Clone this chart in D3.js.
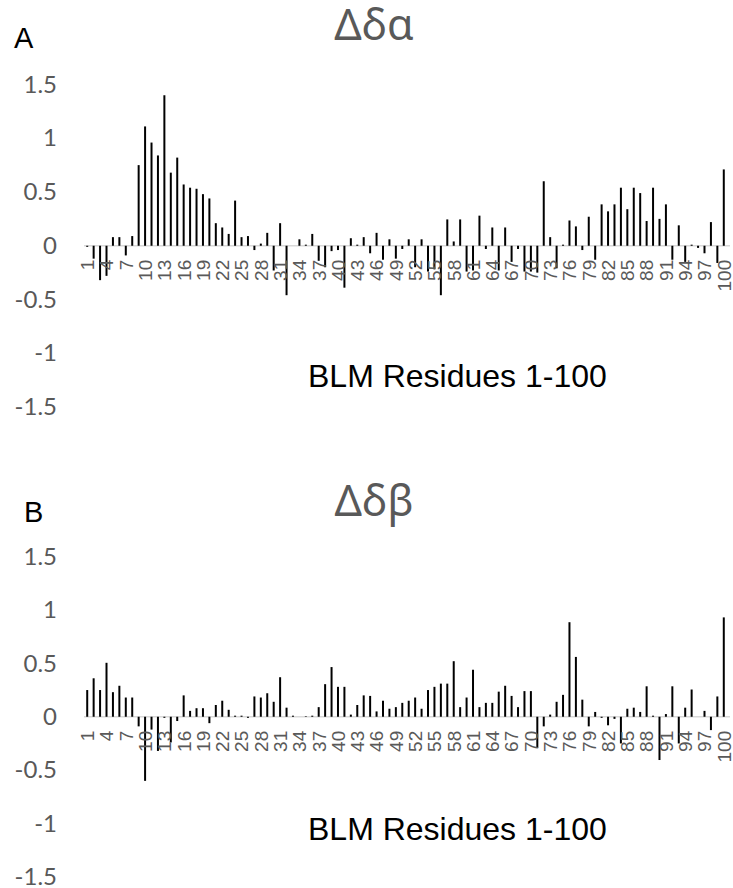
<!DOCTYPE html>
<html>
<head>
<meta charset="utf-8">
<script src="https://cdn.jsdelivr.net/npm/d3@7"></script>
<style>
  body { margin: 0; background: #fff; }
  svg { display: block; }
</style>
</head>
<body>
<div id="chart"></div>
<script>
// Chemical shift differences per BLM residue (1-100)
const residues = d3.range(1, 101);

const deltaAlpha = [
  -0.01, -0.12, -0.32, -0.28, 0.08, 0.08, -0.09, 0.09, 0.75, 1.11,
  0.96, 0.84, 1.40, 0.68, 0.82, 0.57, 0.54, 0.53, 0.48, 0.44,
  0.21, 0.17, 0.11, 0.42, 0.08, 0.09, -0.04, 0.02, 0.12, -0.23,
  0.21, -0.46, 0.00, 0.06, 0.01, 0.11, -0.14, -0.20, -0.05, -0.04,
  -0.39, 0.07, 0.01, 0.08, -0.07, 0.12, -0.13, 0.06, -0.12, -0.03,
  0.06, -0.20, 0.06, -0.24, -0.22, -0.46, 0.245, 0.04, 0.245, -0.24,
  -0.23, 0.28, -0.03, 0.17, -0.23, 0.17, -0.15, -0.03, -0.24, -0.24,
  -0.25, 0.60, 0.08, -0.21, 0.01, 0.235, 0.18, -0.04, 0.27, -0.13,
  0.385, 0.32, 0.385, 0.54, 0.34, 0.54, 0.49, 0.23, 0.54, 0.25,
  0.385, -0.13, 0.19, -0.15, 0.01, -0.02, -0.07, 0.22, -0.16, 0.71
];

const deltaBeta = [
  0.25, 0.36, 0.25, 0.505, 0.23, 0.29, 0.18, 0.18, -0.09, -0.60,
  -0.12, -0.32, -0.01, -0.24, -0.04, 0.20, 0.055, 0.08, 0.08, -0.06,
  0.11, 0.15, 0.065, 0.01, 0.01, -0.01, 0.19, 0.18, 0.22, 0.14,
  0.37, 0.085, 0.01, 0.00, 0.005, 0.01, 0.09, 0.305, 0.465, 0.28,
  0.28, 0.02, 0.11, 0.20, 0.195, 0.05, 0.15, 0.075, 0.09, 0.13,
  0.15, 0.18, 0.075, 0.25, 0.28, 0.31, 0.31, 0.52, 0.09, 0.18,
  0.44, 0.09, 0.13, 0.13, 0.235, 0.29, 0.195, 0.09, 0.24, 0.24,
  -0.29, -0.09, 0.02, 0.14, 0.205, 0.885, 0.56, 0.16, -0.09, 0.045,
  -0.01, -0.08, -0.02, -0.25, 0.075, 0.085, 0.045, 0.285, 0.01, -0.405,
  0.025, 0.285, -0.25, 0.085, 0.255, 0.00, 0.055, -0.125, 0.19, 0.93
];

const yTicks = [-1.5, -1, -0.5, 0, 0.5, 1, 1.5];
const xTickLabels = residues.filter(r => (r - 1) % 3 === 0);
const xAxisTitle = "BLM Residues 1-100";

const width = 733;
const height = 888;

const svg = d3.select("#chart").append("svg")
    .attr("width", width)
    .attr("height", height);

// Shared x scale, one thin bar per residue
const x = d3.scaleBand()
    .domain(residues)
    .range([84, 727])
    .paddingInner(0.69)
    .paddingOuter(0.345);

function drawPanel(values, opts) {
    const y = d3.scaleLinear()
        .domain([-1.5, 1.5])
        .range([opts.bottom, opts.top]);

    const g = svg.append("g");

    // Panel letter
    g.append("text")
        .attr("x", opts.letterX)
        .attr("y", opts.letterY)
        .attr("font-family", "Liberation Sans, Arial, sans-serif")
        .attr("font-size", 29)
        .attr("fill", "#000")
        .text(opts.letter);

    // Title
    g.append("text")
        .attr("x", 374)
        .attr("y", opts.titleY)
        .attr("text-anchor", "middle")
        .attr("font-family", "Noto Sans, Open Sans, sans-serif")
        .attr("font-size", 43)
        .attr("fill", "#595959")
        .text(opts.title);

    // Y axis labels only, no line or ticks (plain hyphen for negatives)
    const yAxis = g.append("g")
        .attr("transform", "translate(57,0)")
        .call(d3.axisLeft(y).tickValues(yTicks).tickSize(0).tickPadding(0).tickFormat(d => String(d)));
    yAxis.select(".domain").remove();
    yAxis.selectAll("text")
        .attr("font-family", "Lato, Carlito, sans-serif")
        .attr("font-size", 24)
        .attr("fill", "#595959");

    // Zero line
    g.append("line")
        .attr("x1", 84)
        .attr("x2", 730)
        .attr("y1", y(0))
        .attr("y2", y(0))
        .attr("stroke", "#d9d9d9")
        .attr("stroke-width", 1.5);

    // Bars
    g.append("g")
        .selectAll("rect")
        .data(values)
        .enter().append("rect")
        .attr("x", (d, i) => x(residues[i]))
        .attr("width", x.bandwidth())
        .attr("y", d => y(Math.max(0, d)))
        .attr("height", d => Math.abs(y(d) - y(0)))
        .attr("fill", "#000");

    // Category labels, rotated, every third residue
    const xAxis = g.append("g")
        .attr("transform", `translate(0,${y(0)})`)
        .call(d3.axisBottom(x).tickValues(xTickLabels).tickSize(0));
    xAxis.select(".domain").remove();
    xAxis.selectAll("text")
        .attr("font-family", "Liberation Sans, Arial, sans-serif")
        .attr("font-size", 19)
        .attr("fill", "#595959")
        .attr("text-anchor", "end")
        .attr("transform", "rotate(-90)")
        .attr("x", -14)
        .attr("y", 0)
        .attr("dy", "0.36em");

    // Axis title
    g.append("text")
        .attr("x", 308)
        .attr("y", opts.axisTitleY)
        .attr("font-family", "Liberation Sans, Arial, sans-serif")
        .attr("font-size", 32)
        .attr("fill", "#000")
        .text(xAxisTitle);
}

drawPanel(deltaAlpha, {
    top: 84.5, bottom: 407,
    title: "Δδα", titleY: 40,
    letter: "A", letterX: 14, letterY: 48,
    axisTitleY: 387
});

drawPanel(deltaBeta, {
    top: 556.5, bottom: 877,
    title: "Δδβ", titleY: 516,
    letter: "B", letterX: 24, letterY: 522,
    axisTitleY: 840
});
</script>
</body>
</html>
